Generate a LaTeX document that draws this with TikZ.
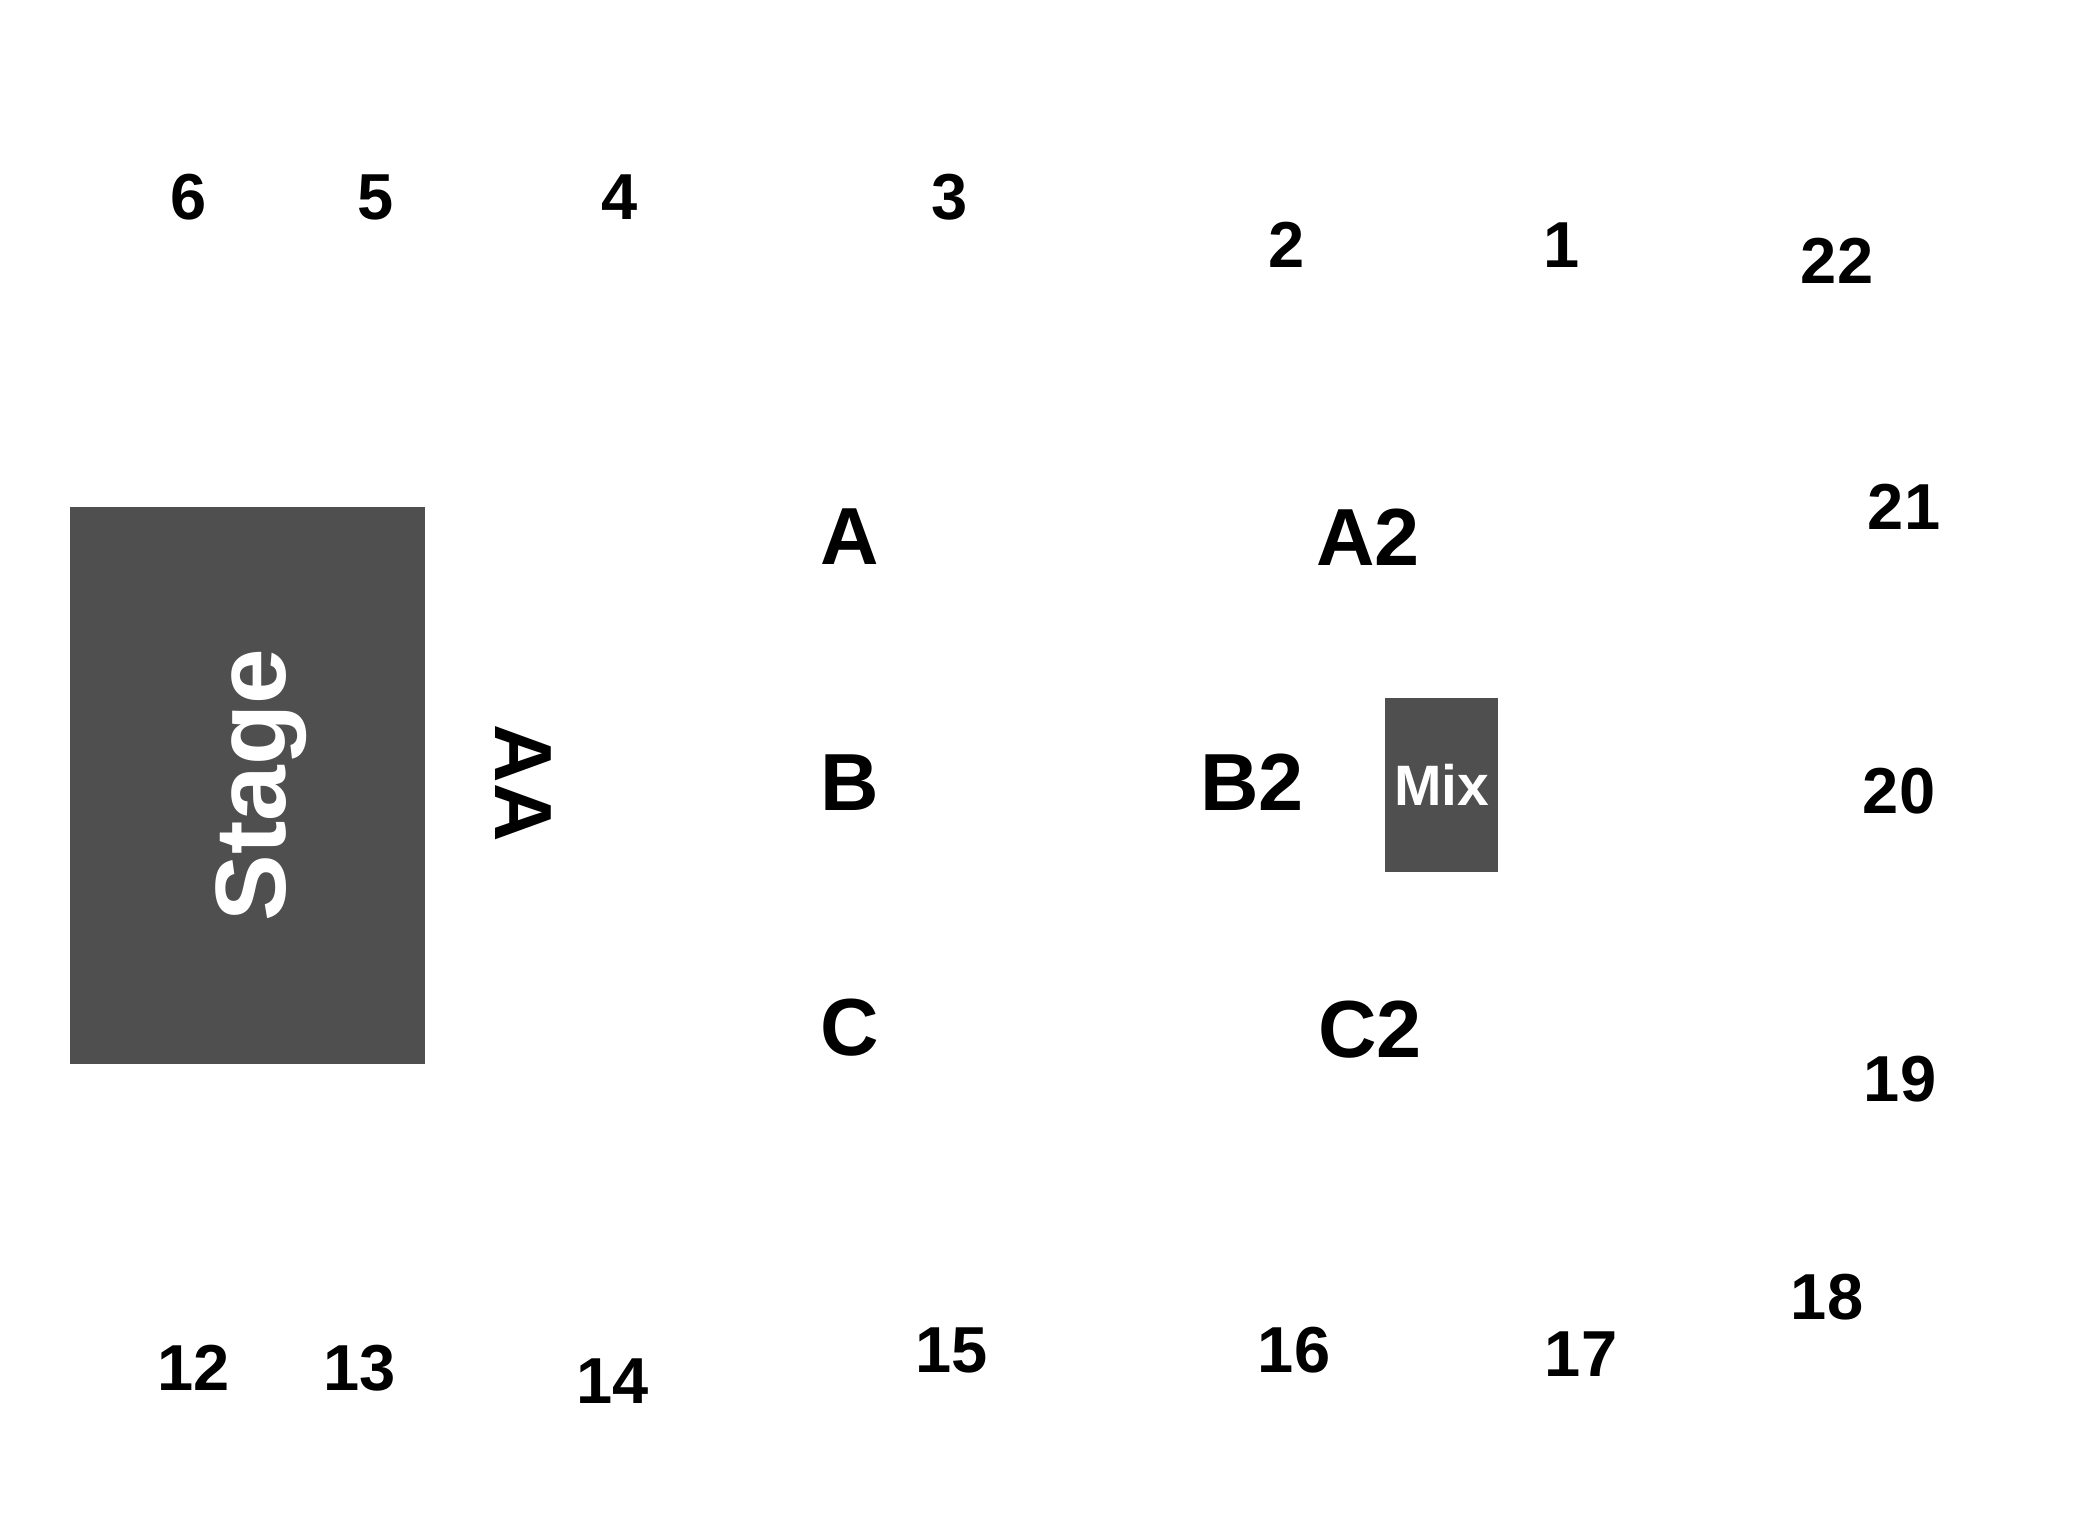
\documentclass[tikz,border=0pt]{standalone}
\usepackage{fontspec}
\setmainfont{Liberation Sans}
\usepackage{tikz}
\usepackage{xcolor}
\definecolor{stagegrey}{RGB}{79,79,79}

\tikzset{
  seat/.style={inner sep=0pt, font=\bfseries\fontsize{32.5}{39}\selectfont},
  zone/.style={inner sep=0pt, font=\bfseries\fontsize{40.5}{48}\selectfont},
}

\begin{document}
\begin{tikzpicture}[x=0.5pt, y=-0.5pt]
            \useasboundingbox (0,0) rectangle (2100,1528);

            % stage and mixing desk
            \fill[stagegrey] (70,507) rectangle (425,1064);
            \fill[stagegrey] (1385,698) rectangle (1498,872);
            \node[rotate=90, anchor=base, inner sep=0pt, text=white, font=\bfseries\fontsize{50}{60}\selectfont] (stage) at (285,785) {Stage};
            \node[inner sep=0pt, text=white, font=\bfseries\fontsize{28.5}{34}\selectfont] (mix) at (1442,785) {Mix};
            \node[zone, rotate=-90, anchor=base] (aa) at (495,783) {AA};

            % zones
            \node[zone] (zoneA) at (850,537) {A};
            \node[zone] (zoneB) at (850,783) {B};
            \node[zone] (zoneC) at (850,1028) {C};
            \node[zone] (zoneA2) at (1368,537) {A2};
            \node[zone] (zoneB2) at (1252,782) {B2};
            \node[zone] (zoneC2) at (1370,1030) {C2};

            % positions round the room
            \node[seat] (p1) at (1562,245) {1};
            \node[seat] (p2) at (1287,245) {2};
            \node[seat] (p3) at (950,197) {3};
            \node[seat] (p4) at (620,197) {4};
            \node[seat] (p5) at (376,197) {5};
            \node[seat] (p6) at (189,197) {6};
            \node[seat] (p12) at (194,1368) {12};
            \node[seat] (p13) at (360,1368) {13};
            \node[seat] (p14) at (613,1381) {14};
            \node[seat] (p15) at (952,1350) {15};
            \node[seat] (p16) at (1294,1350) {16};
            \node[seat] (p17) at (1581,1354) {17};
            \node[seat] (p18) at (1827,1297) {18};
            \node[seat] (p19) at (1900,1079) {19};
            \node[seat] (p20) at (1899,791) {20};
            \node[seat] (p21) at (1904,507) {21};
            \node[seat] (p22) at (1837,261) {22};
        \end{tikzpicture}
\end{document}
